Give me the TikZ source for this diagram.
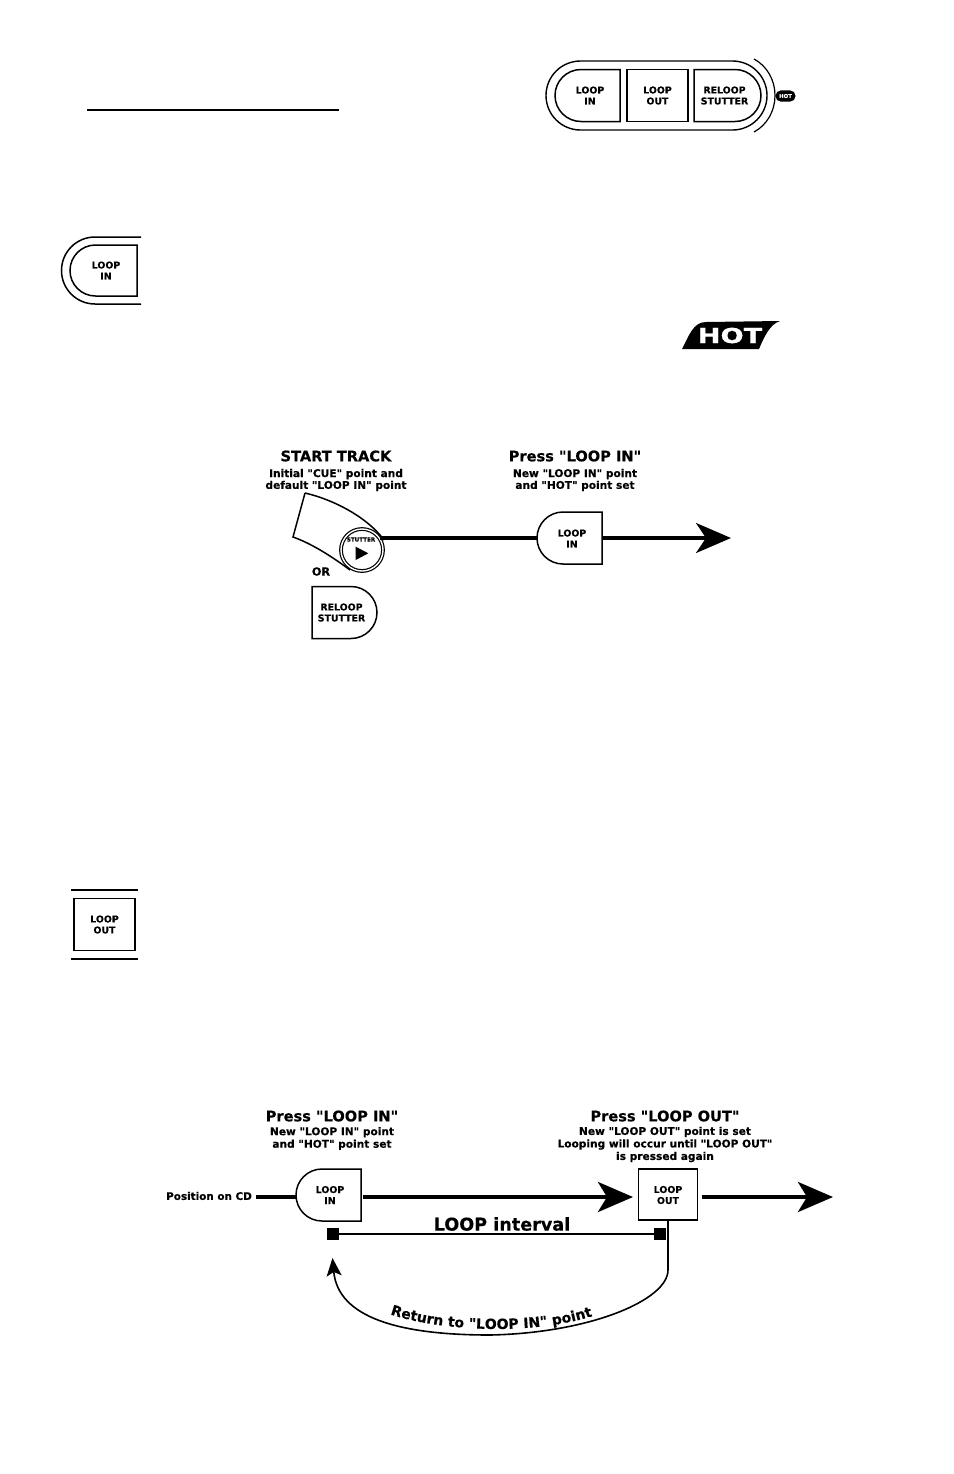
\documentclass[tikz,border=0pt]{standalone}
\usepackage{fontspec}
\newfontfamily\djv{DejaVu Sans}[BoldFeatures={FakeBold=0.35}]
\usetikzlibrary{arrows.meta,calc,decorations.text}
\newcommand{\fsbtn}{\djv\bfseries\fontsize{4.7}{5.5}\selectfont}
\newcommand{\fshead}{\djv\bfseries\fontsize{7.3}{9}\selectfont}
\newcommand{\fssub}{\djv\bfseries\fontsize{5.3}{5.9}\selectfont}
\newcommand{\fssubb}{\djv\bfseries\fontsize{5.3}{6.25}\selectfont}
\newcommand{\fscurve}{\djv\bfseries\fontsize{7}{9}\selectfont}
\newcommand{\leftcap}[1]{\draw[btnline] (#1.south east) -- (#1.north east) -- ([xshift=13pt]#1.north west) arc[start angle=90,end angle=270,radius=13pt] -- cycle;}
\newcommand{\rightcap}[1]{\draw[btnline] (#1.north west) -- (#1.south west) -- ([xshift=-13pt]#1.south east) arc[start angle=-90,end angle=90,radius=13pt] -- cycle;}
\tikzset{
  every node/.style={outer sep=0pt},
  btnline/.style={line width=.75pt,line join=miter},
  btnbox/.style={inner sep=0pt,minimum width=32.5pt,minimum height=26pt},
  btntext/.style={inner sep=0pt,align=center,font=\fsbtn},
  headtext/.style={inner sep=0pt,align=center,font=\fshead},
  subtext/.style={inner sep=0pt,align=center,font=\fssub},
  subtextb/.style={inner sep=0pt,align=center,font=\fssubb},
  flowa/.style={line width=1.6pt,-{Stealth[length=17.5pt,width=15pt,inset=5pt]}},
  flowb/.style={line width=2pt,-{Stealth[length=17.5pt,width=15pt,inset=4.5pt]}},
  plainflow/.style={line width=1.6pt},
  endsq/.style={fill=black,inner sep=0pt,minimum size=6pt},
}
\begin{document}
\begin{tikzpicture}[x=0.5pt,y=-0.5pt]
\useasboundingbox (0,0) rectangle (954,1474);
% heading rule
\coordinate (ruleA) at (87,110);
\coordinate (ruleB) at (339,110);
\draw[line width=.8pt] (ruleA) -- (ruleB);

% top panel
\node[draw,line width=.7pt,rounded corners=17.25pt,minimum width=110.5pt,minimum height=34.5pt,inner sep=0pt] (panel) at (656.5,95.5) {};
\node[btnbox] (pLI) at (587.5,95.5) {};
\leftcap{pLI}
\node[btntext] (pLIt) at (590,95.5) {LOOP\\IN};
\node[btnbox,draw,btnline,minimum width=30.5pt] (pLO) at (657.5,95.5) {};
\node[btntext] (pLOt) at (657.5,95.5) {LOOP\\OUT};
\node[btnbox,minimum width=33.5pt] (pRL) at (727.5,95.5) {};
\rightcap{pRL}
\node[btntext] (pRLt) at (724.5,95.5) {RELOOP\\STUTTER};
\draw[line width=.6pt] (754,59) .. controls (767,66) and (775,80) .. (775,95.5) .. controls (775,111) and (767,125) .. (754,132);
\node[fill=black,text=white,rounded corners=2.7pt,minimum width=10pt,minimum height=5.6pt,inner sep=0pt,font=\djv\bfseries\fontsize{2.7}{3}\selectfont] (pHot) at (785.5,96) {HOT};

% LOOP IN icon
\draw[btnline] (141,237) -- (95,237) arc[start angle=90,end angle=270,radius=16.75pt] -- (141,304);
\node[btnbox,minimum height=25.5pt,minimum width=33.5pt] (iLI) at (103.5,270.5) {};
\draw[btnline] (iLI.south east) -- (iLI.north east) -- ([xshift=12.75pt]iLI.north west) arc[start angle=90,end angle=270,radius=12.75pt] -- cycle;
\node[btntext] (iLIt) at (106,270.5) {LOOP\\IN};

% HOT logo
\fill (682,349) .. controls (689,336) and (693,322) .. (706,322) -- (780,321) .. controls (770,324) and (764,337) .. (759,349) -- cycle;
\node[text=white,inner sep=0pt,font=\djv\bfseries\fontsize{10.3}{11}\selectfont,xscale=1.32] (hot) at (730,335.5) {HOT};

% first diagram
\node[headtext] (startH) at (336,456) {START TRACK};
\node[subtext] (startS) at (336,480) {Initial "CUE" point and\\default "LOOP IN" point};
\node[headtext] (pressH) at (575,456) {Press "LOOP IN"};
\node[subtext] (pressS) at (575,480) {New "LOOP IN" point\\and "HOT" point set};
\draw[btnline] (305,493) .. controls (335,500) and (368,518) .. (384,540);
\draw[btnline] (305,493) -- (293,537) .. controls (310,543) and (330,555) .. (350,570);
\node[circle,draw,double,line width=.6pt,double distance=.7pt,fill=white,minimum size=21pt,inner sep=0pt] (stut) at (362,550) {};
\node[inner sep=0pt,font=\djv\bfseries\fontsize{2.8}{3}\selectfont] (stutT) at (361,539.5) {STUTTER};
\fill (355.7,546.7) -- (368.3,553.3) -- (355.7,560) -- cycle;
\node[btnbox] (liA) at (569.5,538) {};
\leftcap{liA}
\node[btntext] (liAt) at (572,538.5) {LOOP\\IN};
\coordinate (tipA) at (731,538);
\draw[plainflow] (stut.31 |- liA.west) -- (liA.west);
\draw[flowa] (liA.east) -- (tipA);
\node[inner sep=0pt,font=\djv\bfseries\fontsize{5.6}{6}\selectfont] (orT) at (321,571.5) {OR};
\node[btnbox] (rlA) at (344.5,612.5) {};
\rightcap{rlA}
\node[btntext] (rlAt) at (341.5,612.5) {RELOOP\\STUTTER};

% LOOP OUT icon
\coordinate (barAl) at (71,890);
\coordinate (barAr) at (138,890);
\coordinate (barBl) at (71,959);
\coordinate (barBr) at (138,959);
\draw[line width=.9pt] (barAl) -- (barAr);
\draw[line width=.9pt] (barBl) -- (barBr);
\node[btnbox,draw,btnline,minimum width=30.5pt] (iLO) at (104.5,924.5) {};
\node[btntext] (iLOt) at (104.5,924.5) {LOOP\\OUT};

% second diagram
\node[headtext] (pressB) at (332,1116) {Press "LOOP IN"};
\node[subtextb] (pressBs) at (332,1138.5) {New "LOOP IN" point\\and "HOT" point set};
\node[headtext] (pressC) at (665,1116) {Press "LOOP OUT"};
\node[subtextb] (pressCs) at (665,1144.5) {New "LOOP OUT" point is set\\Looping will occur until "LOOP OUT"\\is pressed again};
\node[inner sep=0pt,font=\djv\bfseries\fontsize{5.2}{6}\selectfont] (posT) at (209,1196) {Position on CD};
\node[btnbox] (liB) at (328.5,1195) {};
\leftcap{liB}
\node[btntext] (liBt) at (330,1195) {LOOP\\IN};
\node[btnbox,draw,btnline,minimum width=29.5pt,minimum height=25.5pt] (loB) at (668,1194.5) {};
\node[btntext] (loBt) at (668,1195) {LOOP\\OUT};
\coordinate (tipB) at (633,1197);
\coordinate (tipC) at (833,1197);
\draw[line width=2pt] ([xshift=2pt,yshift=-1pt]posT.east |- liB.west) -- ([yshift=-1pt]liB.west);
\draw[flowb] ([xshift=1pt,yshift=-1pt]liB.east) -- (tipB);
\draw[flowb] ([xshift=2pt,yshift=-1.25pt]loB.east) -- (tipC);
\node[inner sep=0pt,font=\djv\bfseries\fontsize{8.8}{10}\selectfont] (intT) at (502,1224) {LOOP interval};
\node[endsq] (sqL) at (333,1234) {};
\node[endsq] (sqR) at (660,1234) {};
\draw[line width=1pt] (sqL) -- (sqR);
\coordinate (tipD) at (332.5,1258);
\draw[line width=.8pt,-{Stealth[length=9pt,width=7.5pt,inset=2pt]}] (loB.south) -- (668,1270) .. controls (668,1300) and (590,1333) .. (490,1335) .. controls (400,1335) and (338,1318) .. (tipD);
\path[decorate,decoration={text along path,text align=center,text={|\fscurve|Return to "LOOP IN" point}}] (384,1312) .. controls (430,1330) and (530,1338) .. (599,1314);
\end{tikzpicture}
\end{document}
